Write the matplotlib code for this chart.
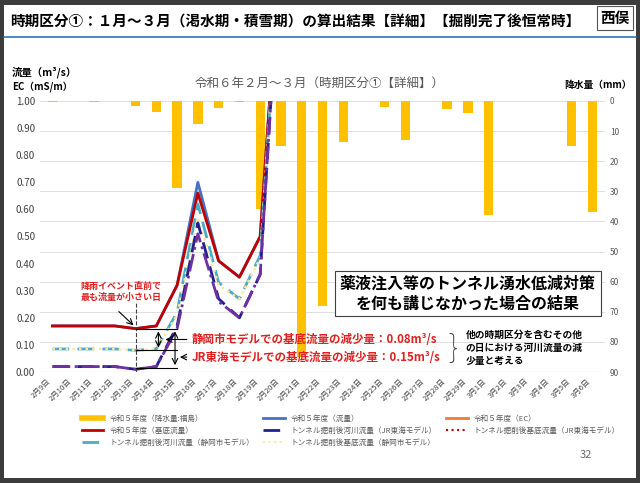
import numpy as np
import matplotlib
matplotlib.use('Agg')
import matplotlib.pyplot as plt
from matplotlib.patches import Rectangle
from matplotlib.lines import Line2D

plt.rcParams['font.family'] = 'Noto Sans CJK JP'

dates = ['2月%d日' % d for d in range(9, 30)] + ['3月%d日' % d for d in range(1, 7)]

# precipitation (mm), Fukushima
precip = [0.3, 0, 0.3, 0, 1.8, 3.6, 29, 7.7, 2.2, 0.3, 36, 15, 85, 68, 13.5, 0,
          2, 13, 0, 2.5, 4, 38, 0, 0, 0, 15, 37]
# flows (m3/s), lines leave the chart after 2/20
flow_r5 = [0.17, 0.17, 0.17, 0.17, 0.16, 0.17, 0.32, 0.70, 0.41, 0.35, 0.50, 1.6]
base_r5 = [0.17, 0.17, 0.17, 0.17, 0.16, 0.17, 0.32, 0.66, 0.41, 0.35, 0.50, 1.6]
jr_flow = [0.02, 0.02, 0.02, 0.02, 0.01, 0.02, 0.17, 0.55, 0.27, 0.20, 0.36, 1.6]
jr_base = [0.02, 0.02, 0.02, 0.02, 0.01, 0.02, 0.16, 0.51, 0.26, 0.20, 0.36, 1.6]
sz_flow = [0.085, 0.085, 0.085, 0.085, 0.08, 0.085, 0.22, 0.62, 0.33, 0.27, 0.43, 1.6]
sz_base = [0.085, 0.085, 0.085, 0.085, 0.08, 0.085, 0.21, 0.57, 0.32, 0.27, 0.42, 1.6]

W, H = 640, 483
fig = plt.figure(figsize=(6.4, 4.83), dpi=100, facecolor='#3c3c3c')

def fx(px):
    return px / W

def fy(py):
    return 1 - py / H

fig.patches.append(Rectangle((fx(4), fy(478)), fx(632), 473 / H, transform=fig.transFigure,
                             facecolor='white', edgecolor='none', zorder=-5))
fig.lines.append(Line2D([fx(4), fx(636)], [fy(37), fy(37)], transform=fig.transFigure,
                        color='#2e75b6', lw=1.2))
fig.text(fx(10), fy(22), '時期区分①：１月～３月（渇水期・積雪期）の算出結果【詳細】【掘削完了後恒常時】',
         fontsize=10.5, fontweight='bold', va='center')
fig.text(fx(615), fy(18), '西俣', fontsize=10.5, fontweight='bold', va='center', ha='center',
         bbox=dict(boxstyle='square,pad=0.25', fc='white', ec='#555555', lw=0.8))
fig.text(fx(580), fy(455), '32', fontsize=8, color='#666666', va='center')

ax = fig.add_axes([fx(40), fy(372), fx(565), (372 - 101) / H])
x = np.arange(len(dates))
ax2 = ax.twinx()
ax.set_zorder(ax2.get_zorder() + 1)
ax.patch.set_visible(False)
ax2.patch.set_visible(False)

ax2.bar(x, precip, width=0.45, color='#ffc000', zorder=2)
ax2.set_ylim(90, 0)
ax2.set_yticks(range(0, 91, 10))
ax2.tick_params(axis='y', labelsize=6, colors='#595959', length=0)

n = len(flow_r5)
ax.plot(x[:n], flow_r5, color='#4472c4', lw=2)
ax.plot(x[:n], base_r5, color='#c00000', lw=2)
ax.plot(x[:n], sz_flow, color='#4bacc6', lw=2, ls=(0, (6, 3)))
ax.plot(x[:n], sz_base, color='#ffe699', lw=1.8, ls=':')
ax.plot(x[:n], jr_flow, color='#1f1f8f', lw=2, ls=(0, (6, 3)))
ax.plot(x[:n], jr_base, color='#7030a0', lw=2, ls='-.')

ax.set_ylim(0, 1.0)
ax.set_xlim(-0.6, len(dates) - 0.4)
ax.set_yticks(np.arange(0, 1.01, 0.1))
ax.set_yticklabels(['%.2f' % v for v in np.arange(0, 1.01, 0.1)])
ax.tick_params(axis='y', labelsize=7, colors='#404040', length=0)
ax.set_xticks(x)
ax.set_xticklabels(dates, rotation=45, ha='right', fontsize=5.5, color='#404040')
ax.tick_params(axis='x', length=0)
ax2.grid(axis='y', color='#d9d9d9', lw=0.6, zorder=0)
ax2.set_axisbelow(True)
for a in (ax, ax2):
    for s in a.spines.values():
        s.set_visible(False)
ax.axhline(0, color='#bfbfbf', lw=0.8)

fig.text(fx(12), fy(76), '流量（m³/s）', fontsize=7.5, fontweight='bold')
fig.text(fx(12), fy(90), 'EC（mS/m）', fontsize=7, fontweight='bold')
fig.text(fx(632), fy(88), '降水量（mm）', fontsize=7, fontweight='bold', ha='right')
fig.text(fx(320), fy(88), '令和６年２月～３月（時期区分①【詳細】）', fontsize=9,
         color='#595959', ha='center')

# annotations
ax.plot([4, 4], [0, 0.26], color='#404040', lw=0.8, ls='--')
ax.text(3.3, 0.295, '降雨イベント直前で\n最も流量が小さい日', color='#e02020', fontsize=6.5,
        fontweight='bold', ha='center', va='center', linespacing=1.3)
ax.annotate('', xy=(4, 0.165), xytext=(3.1, 0.23),
            arrowprops=dict(arrowstyle='->', color='black', lw=0.8))
for yv in (0.16, 0.08, 0.015):
    ax.plot([4, 6], [yv, yv], color='black', lw=0.8)
ax.annotate('', xy=(5.1, 0.08), xytext=(5.1, 0.16),
            arrowprops=dict(arrowstyle='<->', color='black', lw=0.8))
ax.annotate('', xy=(5.9, 0.015), xytext=(5.9, 0.16),
            arrowprops=dict(arrowstyle='<->', color='black', lw=0.8))
ax.annotate('', xy=(5.3, 0.12), xytext=(6.6, 0.12),
            arrowprops=dict(arrowstyle='->', color='black', lw=0.8))
ax.annotate('', xy=(6.0, 0.055), xytext=(6.6, 0.055),
            arrowprops=dict(arrowstyle='->', color='black', lw=0.8))
ax.text(6.7, 0.12, '静岡市モデルでの基底流量の減少量：0.08m³/s', color='#e02020',
        fontsize=8.3, fontweight='bold', va='center')
ax.text(6.7, 0.055, 'JR東海モデルでの基底流量の減少量：0.15m³/s', color='#e02020',
        fontsize=8.3, fontweight='bold', va='center')
ax.text(19.3, 0.088, '}', fontsize=22, va='center', ha='center', color='#404040',
        fontweight='light')
ax.text(19.9, 0.088, '他の時期区分を含むその他\nの日における河川流量の減\n少量と考える',
        fontsize=7, fontweight='bold', va='center', linespacing=1.4)
ax.text(20.0, 0.29, '薬液注入等のトンネル湧水低減対策\nを何も講じなかった場合の結果',
        fontsize=11.5, fontweight='bold', ha='center', va='center', linespacing=1.3,
        bbox=dict(boxstyle='square,pad=0.3', fc='white', ec='#404040', lw=0.8), zorder=5)

# legend
h = {
    'p': Line2D([], [], color='#ffc000', lw=4),
    'f': Line2D([], [], color='#4472c4', lw=2),
    'ec': Line2D([], [], color='#ed7d31', lw=2),
    'b': Line2D([], [], color='#c00000', lw=2),
    'jf': Line2D([], [], color='#1f1f8f', lw=2, ls=(0, (6, 3))),
    'jb': Line2D([], [], color='#c00000', lw=1.5, ls=':'),
    'sf': Line2D([], [], color='#4bacc6', lw=2, ls=(0, (6, 3))),
    'sb': Line2D([], [], color='#ffe699', lw=1.5, ls=':'),
}
labels = {
    'p': '令和５年度（降水量:福島）', 'f': '令和５年度（流量）', 'ec': '令和５年度（EC）',
    'b': '令和５年度（基底流量）', 'jf': 'トンネル掘削後河川流量（JR東海モデル）',
    'jb': 'トンネル掘削後基底流量（JR東海モデル）',
    'sf': 'トンネル掘削後河川流量（静岡市モデル）', 'sb': 'トンネル掘削後基底流量（静岡市モデル）',
}
order = ['p', 'b', 'sf', 'f', 'jf', 'sb', 'ec', 'jb']
fig.legend([h[k] for k in order], [labels[k] for k in order], ncol=3,
           loc='upper left', bbox_to_anchor=(fx(75), fy(408)), frameon=False,
           fontsize=5.5, handlelength=2.8, columnspacing=1.2, labelspacing=0.5,
           labelcolor='#595959')

fig.savefig('out.png', dpi=100, facecolor=fig.get_facecolor())
